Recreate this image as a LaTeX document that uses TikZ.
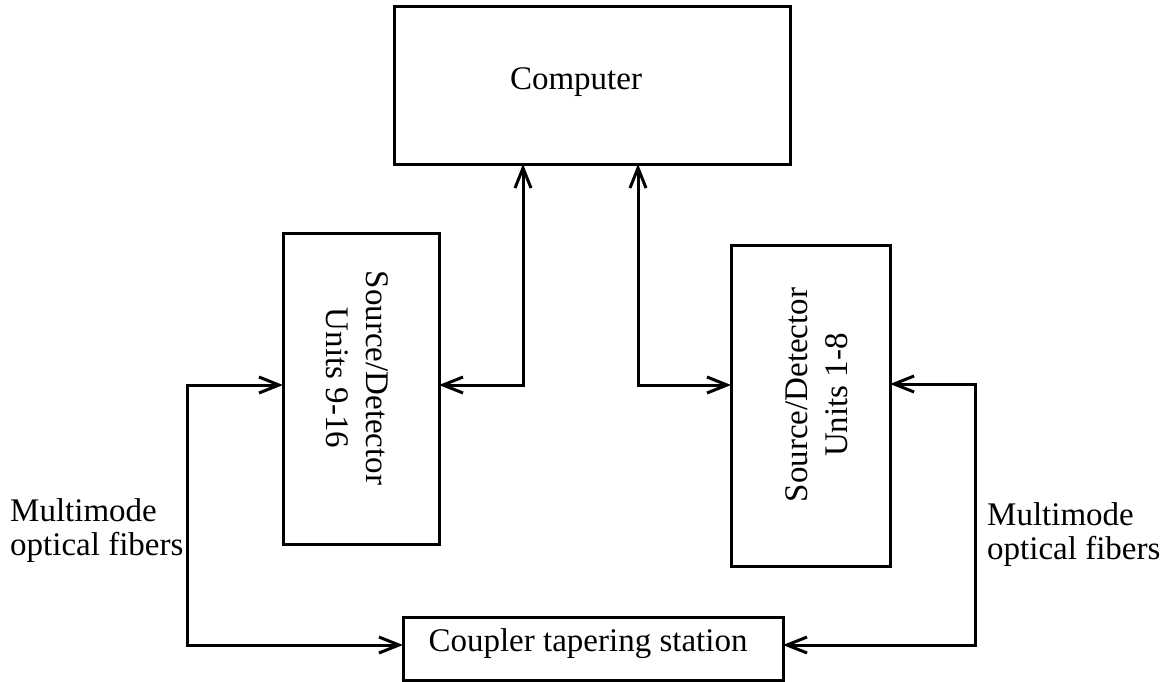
\documentclass[tikz,border=0pt]{standalone}
\usepackage{fontspec}
\setmainfont{Liberation Serif}
\usetikzlibrary{arrows.meta}
\tikzset{
  box/.style={draw, line width=3pt, inner sep=0pt, outer sep=0pt},
  txt/.style={inner sep=0pt, font=\fontsize{33}{34}\selectfont},
  vtxt/.style={inner sep=0pt, align=center, font=\fontsize{33}{40}\selectfont},
  conn/.style={line width=3pt, {Straight Barb[length=20pt,width=16pt]}-{Straight Barb[length=20pt,width=16pt]}}
}
\begin{document}
\begin{tikzpicture}[x=1pt,y=-1pt]
\useasboundingbox (0,0) rectangle (1164,682);
% boxes
\node[box, minimum width=396pt, minimum height=157pt] (comp) at (592,85.5) {};
\node[txt] (comptext) at (576,82) {Computer};
\node[box, minimum width=156pt, minimum height=311pt] (lb) at (361,388.5) {};
\node[vtxt, rotate=-90] (lbtext) at (357,378) {Source/Detector\\Units 9-16};
\node[box, minimum width=159pt, minimum height=321pt] (rb) at (810.5,405.5) {};
\node[vtxt, rotate=90] (rbtext) at (817,395) {Source/Detector\\Units 1-8};
\node[box, minimum width=380pt, minimum height=63pt] (cp) at (593,648.5) {};
\node[txt] (cptext) at (588,644) {Coupler tapering station};
% labels
\node[txt, anchor=west, align=left] (ml) at (10,531) {Multimode\\optical fibers};
\node[txt, anchor=west, align=left] (mr) at (987,535) {Multimode\\optical fibers};
% junctions
\coordinate (a1) at (523,385);
\coordinate (a2) at (638,385);
\coordinate (f1) at (187,385);
\coordinate (f2) at (187,645);
\coordinate (f3) at (975,384);
\coordinate (f4) at (975,645);
% connectors
\draw[conn] (comp.south -| a1) -- (a1) -- (a1 -| lb.east);
\draw[conn] (comp.south -| a2) -- (a2) -- (a2 -| rb.west);
\draw[conn] (f1 -| lb.west) -- (f1) -- (f2) -- (f2 -| cp.west);
\draw[conn] (f3 -| rb.east) -- (f3) -- (f4) -- (f4 -| cp.east);
\end{tikzpicture}
\end{document}
